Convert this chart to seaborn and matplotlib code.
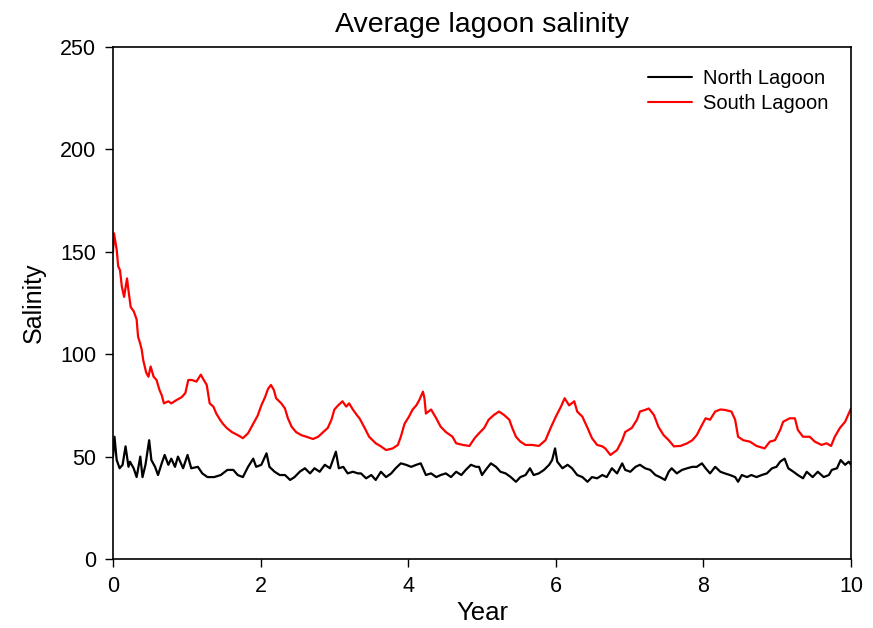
import numpy as np
import pandas as pd
import matplotlib
matplotlib.use("Agg")
import matplotlib.pyplot as plt
import seaborn as sns

# ---- data (year, salinity) ----
south_year = [0.00, 0.014, 0.05, 0.07, 0.095, 0.12, 0.15, 0.19, 0.21, 0.24, 0.28, 0.32, 0.34, 0.37,
              0.39, 0.41, 0.45, 0.48, 0.51, 0.55, 0.59, 0.63, 0.66, 0.69, 0.75, 0.79, 0.86, 0.93,
              0.98, 1.02, 1.07, 1.13, 1.19, 1.22, 1.27, 1.31, 1.36, 1.40, 1.45, 1.49, 1.54, 1.61,
              1.69, 1.76, 1.83, 1.90, 1.96, 2.01, 2.06, 2.10, 2.14, 2.18, 2.21, 2.28, 2.33, 2.37,
              2.42, 2.48, 2.55, 2.62, 2.71, 2.78, 2.85, 2.91, 2.96, 3.00, 3.05, 3.11, 3.16, 3.20,
              3.25, 3.31, 3.34, 3.41, 3.47, 3.56, 3.63, 3.70, 3.79, 3.86, 3.90, 3.95, 4.01, 4.06,
              4.11, 4.15, 4.20, 4.22, 4.24, 4.31, 4.38, 4.44, 4.51, 4.60, 4.65, 4.74, 4.83, 4.90,
              4.96, 5.03, 5.09, 5.16, 5.23, 5.30, 5.37, 5.41, 5.46, 5.52, 5.59, 5.68, 5.77, 5.86,
              5.93, 6.00, 6.07, 6.12, 6.18, 6.25, 6.29, 6.36, 6.43, 6.49, 6.56, 6.63, 6.67, 6.74,
              6.83, 6.90, 6.94, 7.03, 7.10, 7.14, 7.21, 7.26, 7.33, 7.39, 7.46, 7.53, 7.60, 7.69,
              7.78, 7.85, 7.91, 7.98, 8.03, 8.09, 8.16, 8.23, 8.29, 8.38, 8.43, 8.47, 8.54, 8.63,
              8.72, 8.83, 8.90, 8.97, 9.04, 9.08, 9.17, 9.24, 9.28, 9.35, 9.44, 9.51, 9.60, 9.67,
              9.73, 9.78, 9.85, 9.92, 10.00]
south_sal = [150, 159, 151, 143, 141, 133, 128, 137, 131, 123, 121, 117, 108.5, 105,
             102, 97, 91, 89, 94, 89, 87.4, 82.5, 80, 76, 77, 76, 77.6, 79,
             81, 87.4, 87.4, 86.6, 90, 88, 85, 76, 74.4, 71, 68, 66, 64, 62,
             60.5, 59, 61.4, 66, 70, 75, 79, 83, 85, 82.5, 78.5, 76, 73.5, 68.7,
             64.6, 62, 60.5, 59.7, 58.6, 59.7, 62, 64, 68, 73, 75, 77, 74.4, 76,
             73, 70, 68.7, 64, 59.7, 56.5, 55, 53.2, 54, 55.7, 59.7, 66, 69.5, 73,
             75, 77.6, 81.7, 78.5, 71, 73, 68.7, 64.6, 62, 59.7, 56.5, 55.7, 55.2, 59,
             61.4, 64, 68, 70.3, 72, 70.3, 68, 64, 59.7, 57.3, 55.7, 55.7, 55.2, 58,
             64, 69.5, 74.4, 78.5, 75, 77, 72, 69.5, 64, 59, 55.7, 55, 54, 50.8,
             53.2, 58, 62, 64, 68, 72, 72.8, 73.5, 70.3, 64.6, 60.5, 58, 55, 55.2,
             56.5, 58, 60.5, 65.4, 68.7, 68, 72, 73, 72.8, 72, 68, 59.7, 58, 57.3,
             55.2, 54, 57.3, 58, 63, 67, 68.7, 68.7, 63, 59.7, 59.7, 57.3, 55.7, 56.5,
             55.2, 59.7, 64, 67, 73.5]

north_year = [0.00, 0.02, 0.05, 0.09, 0.13, 0.17, 0.21, 0.23, 0.28, 0.32, 0.37, 0.40, 0.44, 0.49,
              0.52, 0.57, 0.61, 0.66, 0.70, 0.75, 0.79, 0.84, 0.88, 0.95, 1.01, 1.06, 1.15, 1.21,
              1.28, 1.37, 1.46, 1.55, 1.63, 1.69, 1.76, 1.83, 1.90, 1.94, 2.01, 2.08, 2.12, 2.19,
              2.26, 2.33, 2.40, 2.46, 2.53, 2.60, 2.67, 2.73, 2.80, 2.87, 2.94, 2.98, 3.02, 3.06,
              3.12, 3.18, 3.25, 3.32, 3.36, 3.43, 3.50, 3.56, 3.63, 3.70, 3.77, 3.83, 3.90, 3.97,
              4.04, 4.11, 4.17, 4.24, 4.31, 4.38, 4.44, 4.51, 4.58, 4.65, 4.72, 4.78, 4.85, 4.92,
              4.96, 5.00, 5.05, 5.12, 5.19, 5.25, 5.32, 5.39, 5.46, 5.52, 5.59, 5.65, 5.70, 5.77,
              5.84, 5.91, 5.95, 5.99, 6.02, 6.09, 6.16, 6.22, 6.29, 6.36, 6.43, 6.49, 6.56, 6.63,
              6.69, 6.76, 6.83, 6.90, 6.94, 7.01, 7.08, 7.14, 7.21, 7.28, 7.35, 7.41, 7.48, 7.53,
              7.57, 7.64, 7.71, 7.78, 7.85, 7.91, 7.98, 8.03, 8.09, 8.16, 8.23, 8.29, 8.36, 8.43,
              8.47, 8.52, 8.59, 8.65, 8.72, 8.79, 8.86, 8.93, 8.99, 9.04, 9.10, 9.15, 9.22, 9.28,
              9.35, 9.40, 9.48, 9.55, 9.63, 9.70, 9.74, 9.81, 9.86, 9.92, 9.97, 10.00]
north_sal = [50, 59.7, 48.3, 44.3, 46, 55, 45, 47.5, 44.3, 40, 50, 40, 46, 58,
             48.3, 45, 41, 46.7, 50.8, 46, 49, 45, 50, 44.3, 50.8, 44.3, 45, 41.8,
             40, 40, 41, 43.5, 43.5, 41, 40, 45, 49, 45, 46, 51.6, 45, 42.6,
             41, 41, 38.6, 40, 42.6, 44.3, 41.8, 44.3, 42.6, 46, 44.3, 48.3, 52.4, 44.3,
             45, 41.8, 42.6, 41.8, 41.8, 39.4, 41, 38.6, 42.6, 40, 41.8, 44.3, 46.7, 46,
             45, 46, 46.7, 41, 41.8, 40, 41, 41.8, 40, 42.6, 41, 43.5, 46, 45,
             45, 41, 43.5, 46.7, 45, 42.6, 41.8, 40, 37.7, 40, 41, 44.3, 41, 41.8,
             43.5, 46, 48.3, 54, 47.5, 44.3, 46, 44.3, 41, 40, 37.7, 40, 39.4, 41,
             40, 44.3, 41.8, 46.7, 43.5, 42.6, 45, 46, 44.3, 43.5, 41, 40, 38.6, 42.6,
             44.3, 41.8, 43.5, 44.3, 45, 45, 46.7, 44.3, 41.8, 45, 42.6, 41.8, 41, 40,
             37.7, 41, 40, 41, 40, 41, 41.8, 44.3, 45, 47.5, 49, 44.3, 42.6, 41,
             39.4, 42.6, 40, 42.6, 40, 41, 43.5, 44.3, 48.3, 46, 47.5, 46]

series_names = ["North Lagoon", "South Lagoon"]
y_ticks = [0, 50, 100, 150, 200, 250]
x_ticks = [0, 2, 4, 6, 8, 10]

df = pd.concat([
    pd.DataFrame({"Year": north_year, "Salinity": north_sal, "Series": series_names[0]}),
    pd.DataFrame({"Year": south_year, "Salinity": south_sal, "Series": series_names[1]}),
], ignore_index=True)

sns.set_style("ticks")
plt.rcParams["font.family"] = ["Liberation Sans", "DejaVu Sans"]
plt.rcParams["text.color"] = "black"
plt.rcParams["axes.labelcolor"] = "black"
plt.rcParams["xtick.color"] = "black"
plt.rcParams["ytick.color"] = "black"

fig = plt.figure(figsize=(8.73, 6.28), dpi=100)
ax = fig.add_axes([113 / 873, 69 / 628, 738 / 873, 512 / 628])

sns.lineplot(data=df, x="Year", y="Salinity", hue="Series", hue_order=series_names,
             palette={"North Lagoon": "#000000", "South Lagoon": "#ff0000"},
             linewidth=1.6, ax=ax, estimator=None, sort=False)

ax.set_xlim(0, 10)
ax.set_ylim(0, 250)
ax.set_xticks(x_ticks)
ax.set_yticks(y_ticks)
ax.tick_params(direction="out", length=6, width=1, labelsize=15.5, color="black",
               labelcolor="black", pad=6)
for s in ax.spines.values():
    s.set_visible(True)
    s.set_color("black")
    s.set_linewidth(1.2)

ax.set_title("Average lagoon salinity", fontsize=20.5, pad=11, color="black")
ax.set_xlabel("Year", fontsize=18.5, labelpad=3)
ax.set_ylabel("Salinity", fontsize=18, labelpad=10)

leg = ax.legend(loc="upper right", frameon=False, fontsize=14.5, handlelength=2.2,
                handletextpad=0.55, labelspacing=0.3, borderaxespad=0.7)
for h in leg.get_lines():
    h.set_linewidth(1.5)
for t in leg.get_texts():
    t.set_color("black")

fig.savefig("out.png", dpi=100)
